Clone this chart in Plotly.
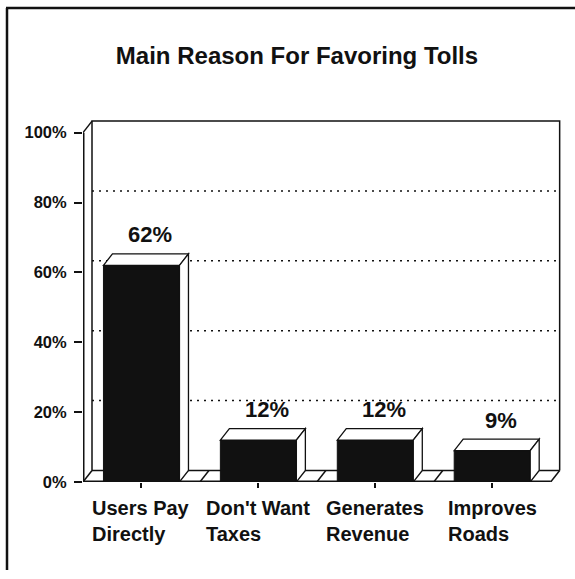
import plotly.graph_objects as go

# ---- data ----
categories = ["Users Pay<br>Directly", "Don't Want<br>Taxes",
              "Generates<br>Revenue", "Improves<br>Roads"]
shares = [62, 12, 12, 9]
y_tick_values = [0, 20, 40, 60, 80, 100]
y_tick_labels = ["0%", "20%", "40%", "60%", "80%", "100%"]
chart_title = "Main Reason For Favoring Tolls"

# ---- geometry / style ----
FIG_W, FIG_H = 575, 579
M_L, M_R, M_T, M_B = 83, 13, 119, 97
BAR_W = 0.65          # bar width in category units
DX, DY = 0.077, 3.3   # 3-D depth offset (category units, percentage points)
FONT = "Liberation Sans, Arial, Helvetica, sans-serif"
INK = "#111111"

n = len(shares)
xs = list(range(n))
x_lo, x_hi = -0.5, n - 0.5
y_top = max(y_tick_values)

plot_w = FIG_W - M_L - M_R
plot_h = FIG_H - M_T - M_B


def px_x(px):
    return (px - M_L) / plot_w


def px_y(py):
    return (FIG_H - M_B - py) / plot_h


shapes = []


def seg(x0, y0, x1, y1, width=1.5, dash=None, layer="below", ref=("x", "y")):
    line = dict(color=INK, width=width)
    if dash:
        line["dash"] = dash
    shapes.append(dict(type="line", xref=ref[0], yref=ref[1],
                       x0=x0, y0=y0, x1=x1, y1=y1, line=line, layer=layer))


# dotted gridlines on the back wall
for v in y_tick_values[1:-1]:
    seg(x_lo + DX, v + DY, x_hi + DX, v + DY, width=1.5, dash="2px,5px")

# back wall outline
shapes.append(dict(
    type="path", xref="x", yref="y", layer="below",
    path=(f"M {x_lo + DX},{DY} L {x_lo + DX},{y_top + DY} "
          f"L {x_hi + DX},{y_top + DY} L {x_hi + DX},{DY}"),
    line=dict(color=INK, width=1.5)))

# front left edge and its corner into the back wall
seg(x_lo, 0, x_lo, y_top, width=3)
seg(x_lo, y_top, x_lo + DX, y_top + DY)

# floor slab
seg(x_lo, 0, x_hi, 0, width=3)
seg(x_lo + DX, DY, x_hi + DX, DY)
for k in range(n + 1):
    seg(x_lo + k, 0, x_lo + k + DX, DY)

# top and side faces of each bar
for x, v in zip(xs, shares):
    left, right = x - BAR_W / 2, x + BAR_W / 2
    top_face = (f"M {left},{v} L {left + DX},{v + DY} "
                f"L {right + DX},{v + DY} L {right},{v} Z")
    side_face = (f"M {right},0 L {right + DX},{DY} "
                 f"L {right + DX},{v + DY} L {right},{v} Z")
    for p in (top_face, side_face):
        shapes.append(dict(type="path", xref="x", yref="y", layer="above",
                           path=p, fillcolor="white",
                           line=dict(color=INK, width=1.3)))

# outer frame
seg(px_x(7), px_y(8), px_x(7), px_y(570), width=2.5, layer="above",
    ref=("paper", "paper"))
seg(px_x(6), px_y(8), px_x(575), px_y(8), width=2.5, layer="above",
    ref=("paper", "paper"))

annotations = []
# value labels above the bars
for x, v in zip(xs, shares):
    annotations.append(dict(
        x=x + DX, y=v + DY, xref="x", yref="y", text=f"{v}%",
        showarrow=False, xanchor="center", yanchor="middle", yshift=19,
        font=dict(family=FONT, size=22, color=INK, weight="bold")))

# category labels: centred blocks, lines left-aligned
for x, c in zip(xs, categories):
    annotations.append(dict(
        x=x, y=0, xref="x", yref="paper", text=c, showarrow=False,
        xanchor="center", yanchor="top", align="left", yshift=-13,
        font=dict(family=FONT, size=20, color=INK, weight="bold")))

fig = go.Figure(go.Bar(
    x=xs, y=shares, width=BAR_W,
    marker=dict(color=INK, line=dict(color=INK, width=1)),
    hoverinfo="skip"))

fig.update_layout(
    width=FIG_W, height=FIG_H,
    margin=dict(l=M_L, r=M_R, t=M_T, b=M_B, pad=0),
    paper_bgcolor="white", plot_bgcolor="white",
    showlegend=False,
    title=dict(text=chart_title, x=297 / FIG_W, y=1 - 56 / FIG_H,
               xref="container", yref="container",
               xanchor="center", yanchor="middle",
               font=dict(family=FONT, size=24, color=INK, weight="bold")),
    xaxis=dict(range=[x_lo, x_hi + DX + 0.02], tickvals=xs,
               ticktext=[""] * n, ticks="outside", ticklen=5,
               tickwidth=1.5, tickcolor=INK, showgrid=False,
               zeroline=False, showline=False, fixedrange=True),
    yaxis=dict(range=[0, y_top + DY + 0.6], tickvals=y_tick_values,
               ticktext=y_tick_labels, ticks="outside", ticklen=8,
               tickwidth=1.5, tickcolor=INK, showgrid=False,
               zeroline=False, showline=False, fixedrange=True,
               ticklabelstandoff=4,
               tickfont=dict(family=FONT, size=16.5, color=INK,
                             weight="bold")),
    shapes=shapes,
    annotations=annotations,
)

fig.write_html("out.html")
